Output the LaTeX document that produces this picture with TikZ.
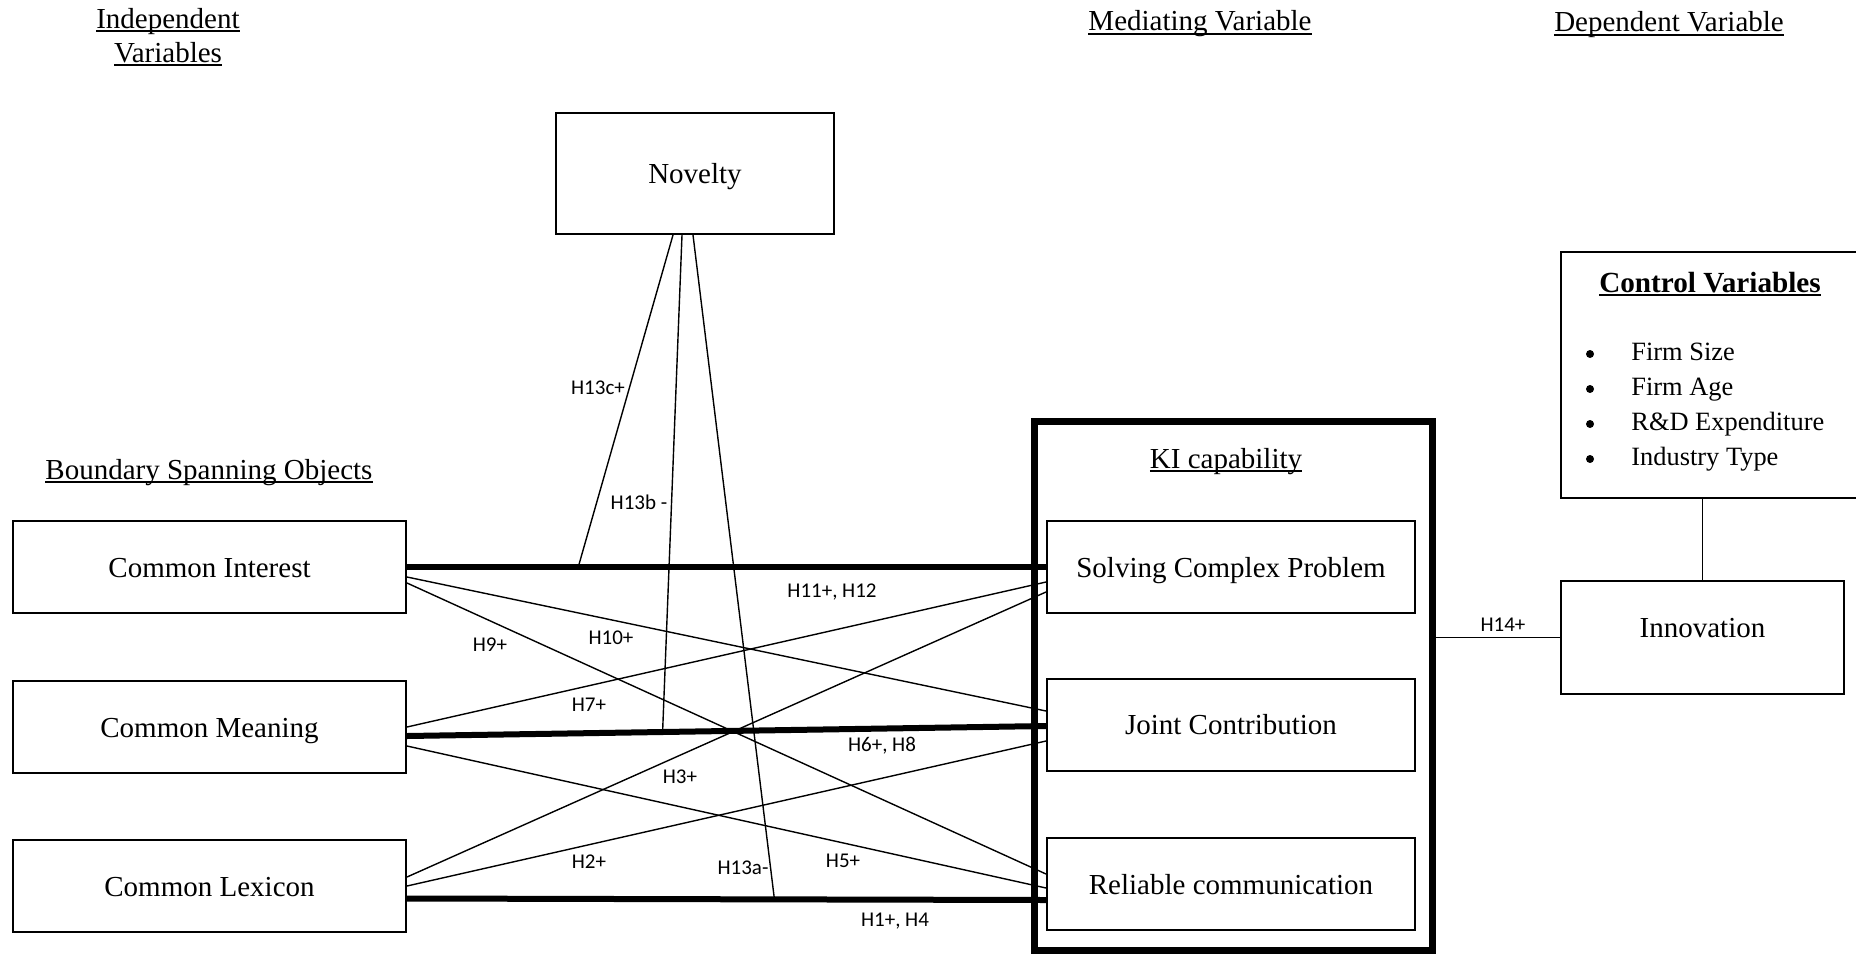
\documentclass[tikz,border=0pt]{standalone}
\usepackage{fontspec}
\setmainfont{Liberation Serif}
\newfontfamily\hypfont{Carlito}
% underline at a fixed distance below the baseline
\newsavebox\ulbox
\newcommand\uln[1]{\sbox\ulbox{#1}\rlap{\rule[-2pt]{\wd\ulbox}{0.9pt}}\usebox\ulbox}
\begin{document}
\begin{tikzpicture}[x=0.5pt,y=-0.5pt,
  varbox/.style={draw, line width=1pt, inner sep=0pt, text height=13pt, text depth=3pt,
                 font=\fontsize{14.5}{17}\selectfont},
  sidebox/.style={varbox, minimum width=196.5pt, minimum height=46pt},
  kibox/.style={varbox, minimum width=184pt, minimum height=46pt},
  head/.style={inner sep=0pt, anchor=base, font=\fontsize{14.5}{17}\selectfont},
  item/.style={inner sep=0pt, anchor=base west, font=\fontsize{13.2}{16}\selectfont},
  dot/.style={circle, fill, inner sep=0pt, minimum size=4pt},
  hyp/.style={inner sep=0pt, font=\hypfont\fontsize{10.5}{12}\selectfont},
  link/.style={line width=0.7pt},
  mainlink/.style={line width=3pt},
]
\useasboundingbox (0,0) rectangle (1856,953);

% column headings
\node[head] (indepA) at (168,28) {\uln{Independent}};
\node[head] (indepB) at (168,62) {\uln{Variables}};
\node[head] (medhead) at (1200,31) {\uln{Mediating Variable}};
\node[head] (dephead) at (1669,32) {\uln{Dependent Variable}};
\node[head] (bso) at (209,479) {\uln{Boundary Spanning Objects}};

% boundary spanning objects and moderator
\node[varbox, minimum width=139pt, minimum height=60.5pt] (nov) at (695,173.5) {Novelty};
\node[sidebox] (ci) at (209.5,567) {Common Interest};
\node[sidebox] (cm) at (209.5,727) {Common Meaning};
\node[sidebox] (cl) at (209.5,886) {Common Lexicon};

% knowledge integration capability
\node[draw, line width=3.5pt, minimum width=198.75pt, minimum height=264.5pt, inner sep=0pt] (ki) at (1233.25,685.5) {};
\node[head] (kititle) at (1226,468) {\uln{KI capability}};
\node[kibox] (scp) at (1231,567) {Solving Complex Problem};
\node[kibox] (jc) at (1231,724.5) {Joint Contribution};
\node[kibox] (rc) at (1231,884) {Reliable communication};

% outcome and controls
\node[varbox, text height=6pt, text depth=6pt, minimum width=141.5pt, minimum height=56.5pt] (inno) at (1702.5,637.5) {Innovation};
\node[varbox, minimum width=149.5pt, minimum height=123pt] (ctrl) at (1710.5,375) {};
\node[inner sep=0pt, anchor=base, font=\bfseries\fontsize{14.6}{17}\selectfont] (ctrltitle) at (1710,292) {\uln{Control Variables}};
\node[item] (itA) at (1631,360) {Firm Size};
\node[item] (itB) at (1631,395) {Firm Age};
\node[item] (itC) at (1631,430) {R\&D Expenditure};
\node[item] (itD) at (1631,465) {Industry Type};
\node[dot] (dtA) at (1590,354) {};
\node[dot] (dtB) at (1590,389) {};
\node[dot] (dtC) at (1590,424) {};
\node[dot] (dtD) at (1590,459) {};

% direct paths
\draw[mainlink] (ci.east) -- (scp.west) coordinate[pos=0.268] (onG);
\draw[mainlink] ([yshift=-4.5pt]cm.east) -- ([yshift=-0.75pt]jc.west) coordinate[pos=0.40] (onH);
\draw[mainlink] ([yshift=-6.25pt]cl.east) -- ([yshift=-8pt]rc.west) coordinate[pos=0.575] (onI);

% cross paths
\draw[link] ([yshift=-5pt]ci.east) -- ([yshift=6.75pt]jc.west);
\draw[link] ([yshift=-8pt]ci.east) -- ([yshift=5pt]rc.west);
\draw[link] (cm.east) -- ([yshift=-7.5pt]scp.west);
\draw[link] ([yshift=-9.5pt]cm.east) -- ([yshift=-2pt]rc.west);
\draw[link] ([yshift=4.5pt]cl.east) -- ([yshift=-12.5pt]scp.west);
\draw[link] (cl.east) -- ([yshift=-8.25pt]jc.west);

% moderating paths from novelty
\draw[link] ([xshift=-11pt]nov.south) -- (onG);
\draw[link] ([xshift=-6.5pt]nov.south) -- (onH);
\draw[link] ([xshift=-1pt]nov.south) -- (onI);

% capability to innovation, controls to innovation
\draw[link] (inno.west) -- (inno.west -| ki.east);
\draw[link] (inno.north) -- (inno.north |- ctrl.south);

% hypothesis labels
\node[hyp] (h13c) at (598,388) {H13c+};
\node[hyp] (h13b) at (639,502) {H13b -};
\node[hyp] (h11) at (832,592) {H11+, H12};
\node[hyp] (h10) at (611,638) {H10+};
\node[hyp] (h9) at (490,645) {H9+};
\node[hyp] (h7) at (589,705) {H7+};
\node[hyp] (h6) at (882,746) {H6+, H8};
\node[hyp] (h3) at (680,777) {H3+};
\node[hyp] (h2) at (589,862) {H2+};
\node[hyp] (h13a) at (743,868) {H13a-};
\node[hyp] (h5) at (843,861) {H5+};
\node[hyp] (h1) at (895,921) {H1+, H4};
\node[hyp] (h14) at (1503,625) {H14+};
\end{tikzpicture}
\end{document}
